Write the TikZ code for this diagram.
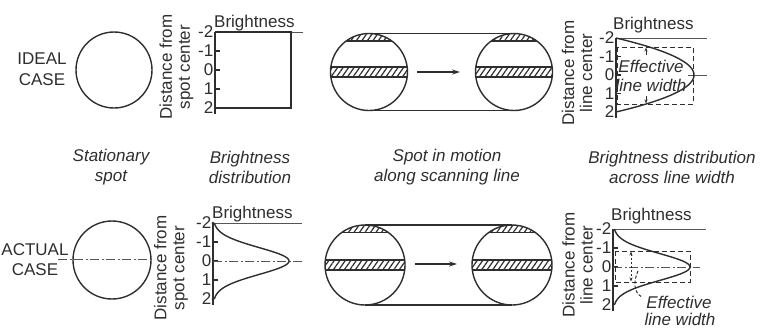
\documentclass[tikz,border=0pt]{standalone}
\usepackage{fontspec}
\setmainfont{Liberation Sans}
\usepackage{tikz}
\usetikzlibrary{arrows.meta,patterns.meta}
\definecolor{inkgray}{HTML}{2E2E2E}
\definecolor{thingray}{HTML}{555555}

\begin{document}
\begin{tikzpicture}[x=1pt,y=-1pt,
  spot/.style={draw=inkgray, line width=1.4pt},
  axisline/.style={draw=inkgray, line width=1.1pt},
  guide/.style={draw=thingray, line width=0.8pt},
  dashdot/.style={draw=thingray, line width=0.8pt, dash pattern=on 9pt off 2.5pt on 2pt off 2.5pt},
  effbox/.style={draw=inkgray, line width=1pt, dash pattern=on 5pt off 3pt},
  hatch/.style={pattern={Lines[angle=55,distance=4.5pt,line width=1.2pt]}, pattern color=inkgray},
  txt/.style={text=inkgray, font=\fontsize{17}{18}\selectfont, inner sep=1pt},
  capt/.style={text=inkgray, font=\fontsize{17}{20}\selectfont\itshape, align=center, inner sep=1pt},
  arr/.style={axisline, -{Stealth[length=8pt,width=5pt]}},
  tinyarr/.style={line width=0.9pt, draw=inkgray, -{Stealth[length=4pt,width=3pt]}}]
  \useasboundingbox (0,0) rectangle (767,330);

  % Row labels
  \node[txt, align=center, font=\fontsize{17}{21}\selectfont] (ideal) at (42,69) {IDEAL\\CASE};
  \node[txt, align=center, font=\fontsize{17}{20}\selectfont] (actual) at (35,260) {ACTUAL\\CASE};

  % Stationary spots
  \draw[spot] (114,70) circle[radius=38];
  \draw[spot] (112,260) circle[radius=39];
  \draw[dashdot] (58,259) -- (154,259);

  % Rotated axis titles
  \node[txt, rotate=90, align=center] (dista) at (176.5,67) {Distance from\\spot center};
  \node[txt, rotate=90, align=center] (distb) at (171,268) {Distance from\\spot center};
  \node[txt, rotate=90, align=center] (distc) at (577,73) {Distance from\\line center};
  \node[txt, rotate=90, align=center] (distd) at (577.5,265) {Distance from\\line center};

  % Axes, ticks and numbers
  \foreach \ax/\zy/\dy/\gn in {215/70/19/a, 213/261/19/b, 616/75/18.5/c, 613/267/19/d} {
    \draw[axisline] (\ax,\zy-2*\dy) -- (\ax,\zy+2.3*\dy);
    \foreach \v in {-1,0,1}
      \draw[axisline] (\ax,\zy+\v*\dy) -- ++(5,0);
    \foreach \v in {-2,...,2}
      \node[txt, anchor=east] (\gn\v) at (\ax-0.5,\zy+\v*\dy) {\v};
  }

  % Brightness titles
  \node[txt, anchor=base west] (brta) at (213,27) {Brightness};
  \node[txt, anchor=base west] (brtb) at (211,218) {Brightness};
  \node[txt, anchor=base west] (brtc) at (612,29) {Brightness};
  \node[txt, anchor=base west] (brtd) at (610,220) {Brightness};

  % Ideal spot: flat distribution
  \draw[guide] (215,32) -- (303,32);
  \draw[spot] (215,32) -- (291,32) -- (291,108) -- (215,108);

  % Actual spot: bell curve
  \draw[guide] (213,223) -- (302,223);
  \draw[dashdot] (213,261) -- (302,261);
  \draw[spot] plot[domain=-2:2, samples=80, smooth] ({213+76*exp(-((\x)*(\x)))}, {261+19*\x});
  \fill[inkgray] (213,223) circle[radius=1.5] (213,299) circle[radius=1.5];

  % Spots in motion
  \foreach \cx/\cy/\r/\mn in {369/72/38.5/p, 514/72/38.5/q, 365/265/40/r, 512/265/40/s} {
    \begin{scope}
      \clip (\cx,\cy) circle[radius=\r];
      \fill[hatch] (\cx-\r,\cy-\r) rectangle (\cx+\r,\cy-\r+7.5);
      \fill[hatch] (\cx-\r,\cy-5) rectangle (\cx+\r,\cy+5);
      \draw[spot] (\cx-\r,\cy-\r+7.5) -- (\cx+\r,\cy-\r+7.5);
      \draw[spot] (\cx-\r,\cy-5) -- (\cx+\r,\cy-5);
      \draw[spot] (\cx-\r,\cy+5) -- (\cx+\r,\cy+5);
    \end{scope}
    \draw[spot] (\cx,\cy) circle[radius=\r];
    \coordinate (\mn) at (\cx,\cy);
  }
  \draw[spot] (369,33.5) -- (514,33.5);
  \draw[spot] (369,110.5) -- (514,110.5);
  \draw[spot] (365,225) -- (512,225);
  \draw[spot] (365,305) -- (512,305);
  \coordinate (mva) at (417,72);
  \coordinate (mvb) at (460,72);
  \coordinate (mvc) at (415,264);
  \coordinate (mvd) at (457,264);
  \draw[arr] (mva) -- (mvb);
  \draw[arr] (mvc) -- (mvd);

  % Line width, ideal
  \draw[guide] (616,38) -- (707,38);
  \draw[guide] (688,75) -- (707,75);
  \draw[spot] plot[domain=-2:2, samples=60, smooth] ({616+78*(1-(\x)*(\x)/4)}, {75+18.5*\x});
  \draw[effbox] (617,47) rectangle (693,104);
  \node[capt, anchor=base] (effa) at (651,72) {Effective};
  \node[capt, anchor=base] (lwa) at (651,91) {line width};
  \draw[tinyarr] (646,55) -- (646,47.5);
  \draw[tinyarr] (646,96) -- (646,103.5);

  % Line width, actual
  \draw[guide] (613,229) -- (706,229);
  \draw[dashdot] (613,267) -- (700,267);
  \draw[spot] plot[domain=-2:2, samples=80, smooth] ({613+77*exp(-((\x)*(\x)))}, {267+19*\x});
  \draw[effbox] (615,251) rectangle (690,282);
  \draw[tinyarr, dash pattern=on 2pt off 2pt, {Stealth[length=4pt,width=3pt]}-{Stealth[length=4pt,width=3pt]}] (631,251.5) -- (631,281.5);
  \draw[effbox, dash pattern=on 3pt off 2pt] (638,271) .. controls (633,282) and (634,293) .. (642,297);
  \node[capt, anchor=base] (effb) at (679,308) {Effective};
  \node[capt, anchor=base] (lwb) at (680,325) {line width};

  % Captions
  \node[capt] (cap1) at (111,167) {Stationary\\spot};
  \node[capt] (cap2) at (250,167) {Brightness\\distribution};
  \node[capt] (cap3) at (447,167) {Spot in motion\\along scanning line};
  \node[capt] (cap4) at (672,167) {Brightness distribution\\across line width};
\end{tikzpicture}
\end{document}
